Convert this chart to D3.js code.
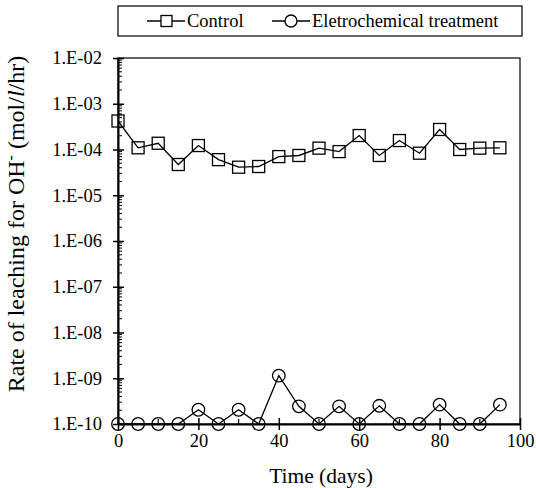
<!DOCTYPE html>
<html>
<head>
<meta charset="utf-8">
<script src="https://cdn.jsdelivr.net/npm/d3@7"></script>
<style>
  body { margin: 0; background: #fff; }
  svg text, svg tspan { font-family: 'Liberation Serif' !important; }
</style>
</head>
<body>
<div id="chart"></div>
<script>
// data
var days = [0, 5, 10, 15, 20, 25, 30, 35, 40, 45, 50, 55, 60, 65, 70, 75, 80, 85, 90, 95];
var control = [4.2e-4, 1.09e-4, 1.37e-4, 4.7e-5, 1.22e-4, 6.0e-5, 4.1e-5, 4.25e-5, 7.0e-5, 7.4e-5,
               1.07e-4, 9.0e-5, 2.02e-4, 7.4e-5, 1.57e-4, 8.3e-5, 2.74e-4, 1.0e-4, 1.07e-4, 1.09e-4];
var treated = [1e-10, 1e-10, 1e-10, 1e-10, 2.05e-10, 1e-10, 2.05e-10, 1e-10, 1.14e-9, 2.43e-10,
               1e-10, 2.43e-10, 1e-10, 2.5e-10, 1e-10, 1e-10, 2.65e-10, 1e-10, 1e-10, 2.65e-10];
var xTicks = [0, 20, 40, 60, 80, 100];
var yTicks = [1e-10, 1e-9, 1e-8, 1e-7, 1e-6, 1e-5, 1e-4, 1e-3, 1e-2];
var yTickLabels = ["1.E-10", "1.E-09", "1.E-08", "1.E-07", "1.E-06", "1.E-05", "1.E-04", "1.E-03", "1.E-02"];
var seriesNames = ["Control", "Eletrochemical treatment"];

var serifFont = "'Liberation Serif'";

var w = 536, h = 488;
var margin = { top: 58, right: 16, bottom: 64, left: 118 };
var plotW = w - margin.left - margin.right;
var plotH = h - margin.top - margin.bottom;

var svg = d3.select("#chart").append("svg")
  .attr("width", w)
  .attr("height", h)
  .style("font-family", serifFont);

var xScale = d3.scaleLinear().domain([0, 100]).range([0, plotW]);
var yScale = d3.scaleLog().domain([1e-10, 1e-2]).range([plotH, 0]);

var g = svg.append("g")
  .attr("transform", "translate(" + margin.left + "," + margin.top + ")");

// plot frame
g.append("rect")
  .attr("width", plotW)
  .attr("height", plotH)
  .attr("fill", "none")
  .attr("stroke", "#000")
  .attr("stroke-width", 1.2);

// minor y ticks (2..9 in each decade), inside only
var minorY = [];
yTicks.slice(0, -1).forEach(function(t) {
  for (var k = 2; k <= 9; k++) minorY.push(t * k);
});
g.selectAll(".minor-y")
  .data(minorY)
  .enter().append("line")
  .attr("x1", 0).attr("x2", 4)
  .attr("y1", d => yScale(d)).attr("y2", d => yScale(d))
  .attr("stroke", "#000").attr("stroke-width", 1);

// y axis: major ticks cross the line
var yAxis = d3.axisLeft(yScale)
  .tickValues(yTicks)
  .tickFormat((d, i) => yTickLabels[i])
  .tickSizeOuter(0)
  .tickSize(0)
  .tickPadding(16);
var yg = g.append("g").call(yAxis).attr("font-family", null);
yg.select(".domain").attr("stroke-width", 2);
yg.selectAll("text").attr("font-size", "18.5px");
yg.selectAll(".tick").append("line")
  .attr("x1", -5).attr("x2", 6)
  .attr("stroke", "#000").attr("stroke-width", 1.5);

// x axis
var xAxis = d3.axisBottom(xScale)
  .tickValues(xTicks)
  .tickSize(0)
  .tickSizeOuter(0)
  .tickPadding(10);
var xg = g.append("g")
  .attr("transform", "translate(0," + plotH + ")")
  .call(xAxis)
  .attr("font-family", null);
xg.select(".domain").attr("stroke-width", 2);
xg.selectAll("text").attr("font-size", "18.5px");
xg.selectAll(".tick").append("line")
  .attr("y1", -6).attr("y2", 6)
  .attr("stroke", "#000").attr("stroke-width", 1.5);
// minor x ticks, inside
g.selectAll(".minor-x")
  .data([10, 30, 50, 70, 90])
  .enter().append("line")
  .attr("x1", d => xScale(d)).attr("x2", d => xScale(d))
  .attr("y1", plotH - 5).attr("y2", plotH)
  .attr("stroke", "#000").attr("stroke-width", 1.2);

// axis titles
svg.append("text")
  .attr("x", 321)
  .attr("y", 483)
  .attr("text-anchor", "middle")
  .attr("font-size", "21.5px")
  .text("Time (days)");

var ylab = svg.append("text")
  .attr("transform", "translate(24,224) rotate(-90)")
  .attr("text-anchor", "middle")
  .attr("font-size", "24px");
ylab.append("tspan").text("Rate of leaching for OH");
ylab.append("tspan").attr("dy", -8).attr("font-size", "16px").text("-");
ylab.append("tspan").attr("dy", 8).text(" (mol/");
ylab.append("tspan").attr("font-style", "italic").text("l");
ylab.append("tspan").text("/hr)");

// lines
var line = d3.line()
  .x((d, i) => xScale(days[i]))
  .y(d => yScale(d));

[control, treated].forEach(function(s) {
  g.append("path")
    .datum(s)
    .attr("d", line)
    .attr("fill", "none")
    .attr("stroke", "#000")
    .attr("stroke-width", 1.3);
});

// markers
g.selectAll(".sq")
  .data(control)
  .enter().append("rect")
  .attr("x", (d, i) => xScale(days[i]) - 6)
  .attr("y", d => yScale(d) - 6)
  .attr("width", 12).attr("height", 12)
  .attr("fill", "none")
  .attr("stroke", "#000").attr("stroke-width", 1.3);

g.selectAll(".ci")
  .data(treated)
  .enter().append("circle")
  .attr("cx", (d, i) => xScale(days[i]))
  .attr("cy", d => yScale(d))
  .attr("r", 6.3)
  .attr("fill", "none")
  .attr("stroke", "#000").attr("stroke-width", 1.3);

// legend
var legend = svg.append("g");
legend.append("rect")
  .attr("x", 118).attr("y", 6)
  .attr("width", 404).attr("height", 30)
  .attr("fill", "#fff")
  .attr("stroke", "#000").attr("stroke-width", 1.2);

var items = legend.selectAll(".legend")
  .data(seriesNames)
  .enter().append("g")
  .attr("transform", (d, i) => "translate(" + (i === 0 ? 147 : 272) + ",21)");
items.append("line")
  .attr("x1", 0).attr("x2", 38)
  .attr("stroke", "#000").attr("stroke-width", 1.3);
items.each(function(d, i) {
  var it = d3.select(this);
  if (i === 0) {
    it.append("rect").attr("x", 14).attr("y", -5.5).attr("width", 11).attr("height", 11)
      .attr("fill", "#fff").attr("stroke", "#000").attr("stroke-width", 1.3);
  } else {
    it.append("circle").attr("cx", 19).attr("r", 6)
      .attr("fill", "#fff").attr("stroke", "#000").attr("stroke-width", 1.3);
  }
});
items.append("text")
  .attr("x", 40)
  .attr("dy", "0.35em")
  .attr("font-size", "18.5px")
  .text(d => d);

svg.selectAll("text").style("font-family", serifFont).attr("fill", "#000");
</script>
</body>
</html>
